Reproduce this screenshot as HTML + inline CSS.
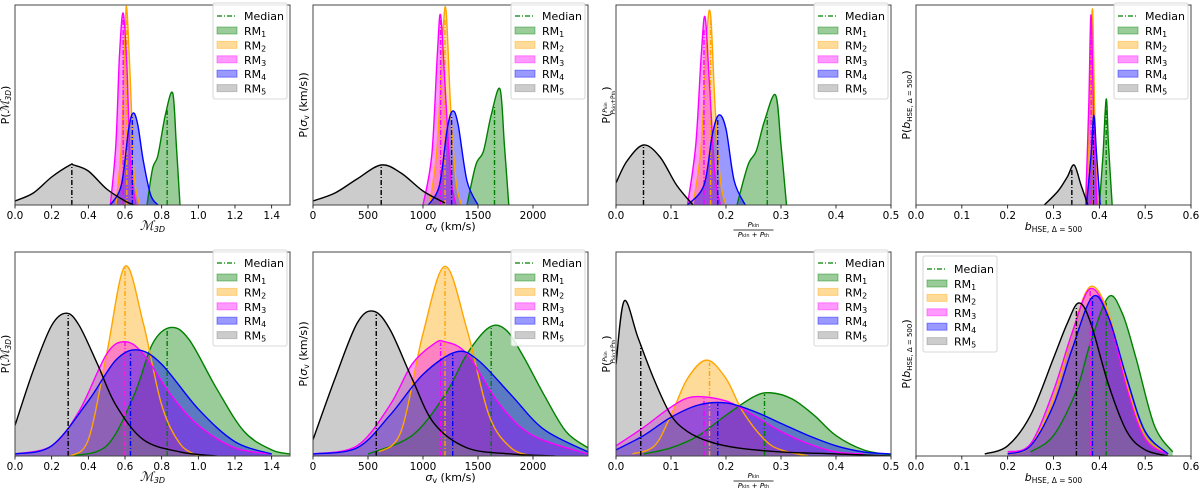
<!DOCTYPE html>
<html><head><meta charset="utf-8"><style>
body{margin:0;background:#fff;}
svg{display:block;font-family:"DejaVu Sans","Liberation Sans",sans-serif;}
</style></head><body>
<svg id="fig" width="1200" height="488" viewBox="0 0 1200 488" xmlns="http://www.w3.org/2000/svg"></svg>
<script>
// ---- data ----
const p1X=[[0.72,0.75,0.78,0.82,0.86,0.88,0.9],[0.55,0.58,0.6,0.61,0.63,0.65,0.68],[0.52,0.55,0.57,0.59,0.61,0.63,0.66],[0.52,0.58,0.62,0.645,0.67,0.7,0.74,0.78],[0,0.1,0.2,0.3,0.32,0.4,0.5,0.6,0.65]];
const p1Y=[[0,0.18,0.25,0.45,0.56,0.3,0],[0,0.3,0.85,0.98,0.6,0.15,0],[0,0.3,0.75,0.96,0.7,0.2,0],[0,0.1,0.38,0.46,0.4,0.22,0.05,0],[0.02,0.06,0.14,0.2,0.2,0.17,0.08,0.02,0]];
const p1Med=[0.83,0.61,0.59,0.64,0.31];
const p2X=[[1400,1480,1550,1620,1700,1740,1780],[1060,1130,1180,1210,1250,1300,1350],[1000,1080,1130,1160,1200,1250,1300],[1050,1150,1220,1270,1320,1400,1500],[0,200,400,620,800,1000,1200]];
const p2Y=[[0,0.2,0.27,0.45,0.58,0.3,0],[0,0.3,0.85,0.97,0.5,0.12,0],[0,0.25,0.75,0.95,0.6,0.15,0],[0,0.1,0.38,0.47,0.4,0.12,0],[0.02,0.06,0.13,0.2,0.16,0.07,0.01]];
const p2Med=[1650,1200,1160,1260,620];
const p3X=[[0.22,0.24,0.255,0.27,0.29,0.3,0.31],[0.14,0.155,0.165,0.172,0.18,0.19,0.2],[0.13,0.145,0.155,0.162,0.17,0.18,0.19],[0.13,0.16,0.175,0.187,0.2,0.215,0.235],[0,0.02,0.05,0.08,0.11,0.14]];
const p3Y=[[0,0.2,0.27,0.42,0.55,0.3,0],[0,0.3,0.85,0.95,0.5,0.12,0],[0,0.3,0.75,0.94,0.6,0.15,0],[0,0.1,0.35,0.45,0.38,0.12,0],[0.11,0.22,0.3,0.24,0.1,0]];
const p3Med=[0.275,0.172,0.16,0.185,0.05];
const p4X=[[0.4,0.408,0.415,0.42,0.428],[0.372,0.38,0.385,0.39,0.397],[0.37,0.377,0.382,0.388,0.395],[0.372,0.382,0.388,0.394,0.402],[0.28,0.31,0.33,0.345,0.36,0.375]];
const p4Y=[[0,0.25,0.53,0.3,0],[0,0.55,0.98,0.45,0],[0,0.5,0.95,0.4,0],[0,0.25,0.45,0.25,0],[0,0.07,0.14,0.2,0.1,0]];
const p4Med=[0.415,0.385,0.382,0.387,0.34];
const p5X=[[0.3,0.5,0.65,0.75,0.85,0.95,1.1,1.25,1.4,1.5],[0.3,0.4,0.5,0.6,0.7,0.8,0.9,1.0],[0,0.2,0.35,0.5,0.6,0.7,0.85,1.0,1.2,1.4],[0,0.2,0.4,0.55,0.67,0.8,1.0,1.2,1.4],[0,0.1,0.2,0.28,0.35,0.45,0.55,0.7,0.9,1.1]];
const p5Y=[[0,0.05,0.3,0.55,0.63,0.57,0.33,0.12,0.03,0.01],[0,0.08,0.5,0.93,0.65,0.25,0.06,0],[0.01,0.05,0.22,0.5,0.56,0.5,0.3,0.15,0.04,0.01],[0.01,0.05,0.27,0.47,0.52,0.45,0.23,0.07,0.01],[0.15,0.42,0.64,0.7,0.64,0.45,0.25,0.08,0.02,0]];
const p5Med=[0.83,0.6,0.6,0.63,0.29];
const p6X=[[500,900,1200,1400,1600,1750,1900,2100,2300,2500],[600,800,1000,1200,1400,1600,1800,2000],[0,400,700,900,1100,1200,1400,1700,2000,2500],[0,400,700,1000,1300,1500,1800,2100,2500],[0,200,400,550,700,900,1100,1400,1800,2200]];
const p6Y=[[0.01,0.1,0.3,0.5,0.63,0.62,0.5,0.3,0.12,0.04],[0.02,0.12,0.6,0.93,0.62,0.2,0.04,0],[0.01,0.05,0.25,0.45,0.55,0.56,0.5,0.25,0.1,0.01],[0.01,0.04,0.2,0.4,0.51,0.47,0.3,0.13,0.02],[0.08,0.38,0.65,0.71,0.62,0.38,0.16,0.04,0.01,0]];
const p6Med=[1620,1200,1160,1270,575];
const p7X=[[0.05,0.1,0.15,0.2,0.25,0.28,0.32,0.36,0.4,0.45,0.5],[0.03,0.07,0.1,0.13,0.165,0.2,0.23,0.27,0.3,0.35],[0,0.05,0.1,0.14,0.2,0.25,0.3,0.35,0.4,0.45],[0,0.05,0.1,0.15,0.2,0.25,0.3,0.35,0.4,0.45,0.5],[0,0.015,0.04,0.07,0.1,0.13,0.17,0.22,0.3,0.4,0.5]];
const p7Y=[[0.01,0.04,0.1,0.2,0.29,0.31,0.28,0.2,0.1,0.03,0.005],[0.01,0.05,0.2,0.38,0.47,0.38,0.22,0.08,0.03,0],[0.05,0.14,0.24,0.29,0.27,0.2,0.12,0.06,0.02,0.01],[0.03,0.1,0.19,0.25,0.26,0.22,0.16,0.1,0.05,0.02,0.01],[0.45,0.76,0.58,0.37,0.2,0.12,0.07,0.04,0.02,0.01,0]];
const p7Med=[0.27,0.17,0.16,0.185,0.045];
const p8X=[[0.25,0.3,0.35,0.38,0.42,0.45,0.48,0.52,0.56],[0.2,0.25,0.3,0.34,0.38,0.42,0.46,0.5,0.55],[0.2,0.25,0.3,0.34,0.38,0.42,0.46,0.5,0.55],[0.2,0.25,0.3,0.34,0.385,0.42,0.46,0.5,0.55],[0.15,0.2,0.25,0.3,0.33,0.355,0.38,0.42,0.46,0.5,0.55]];
const p8Y=[[0.02,0.1,0.32,0.55,0.78,0.7,0.48,0.15,0.02],[0.01,0.05,0.28,0.6,0.83,0.7,0.35,0.1,0.01],[0.02,0.06,0.32,0.6,0.82,0.68,0.33,0.08,0.01],[0.01,0.05,0.25,0.52,0.78,0.68,0.38,0.12,0.01],[0.01,0.05,0.2,0.48,0.65,0.75,0.66,0.35,0.12,0.03,0]];
const p8Med=[0.415,0.38,0.38,0.385,0.35];
const seriesNames=['RM1','RM2','RM3','RM4','RM5'];
const ticks14=[0,0.2,0.4,0.6,0.8,1.0,1.2,1.4];
const ticksSig=[0,500,1000,1500,2000];
const ticks05=[0,0.1,0.2,0.3,0.4,0.5];
const ticks06=[0,0.1,0.2,0.3,0.4,0.5,0.6];

// ---- styling / layout ----
const lineCol=['#008000','#FFA500','#FF00FF','#0000FF','#000000'];
const fillCol=['#008000','#FFA500','#FF00FF','#0000FF','#808080'];
const NS='http://www.w3.org/2000/svg';
const svg=document.getElementById('fig');
function mk(tag,attrs,parent){const e=document.createElementNS(NS,tag);for(const k in attrs)e.setAttribute(k,attrs[k]);(parent||svg).appendChild(e);return e;}
function fmt(v,dec){return dec<0?String(v):v.toFixed(dec);}

const panels=[
 {X:p1X,Y:p1Y,M:p1Med,xmax:1.5,ticks:ticks14,dec:1,left:15,top:5,bot:205,lab:'m3d',legL:false,name:'mach-top'},
 {X:p2X,Y:p2Y,M:p2Med,xmax:2500,ticks:ticksSig,dec:-1,left:313,top:5,bot:205,lab:'sig',legL:false,name:'sigma-top'},
 {X:p3X,Y:p3Y,M:p3Med,xmax:0.5,ticks:ticks05,dec:1,left:616,top:5,bot:205,lab:'p',legL:false,name:'pressure-top'},
 {X:p4X,Y:p4Y,M:p4Med,xmax:0.6,ticks:ticks06,dec:1,left:916,top:5,bot:205,lab:'b',legL:false,name:'bias-top'},
 {X:p5X,Y:p5Y,M:p5Med,xmax:1.5,ticks:ticks14,dec:1,left:15,top:252,bot:456,lab:'m3d',legL:false,name:'mach-bottom'},
 {X:p6X,Y:p6Y,M:p6Med,xmax:2500,ticks:ticksSig,dec:-1,left:313,top:252,bot:456,lab:'sig',legL:false,name:'sigma-bottom'},
 {X:p7X,Y:p7Y,M:p7Med,xmax:0.5,ticks:ticks05,dec:1,left:616,top:252,bot:456,lab:'p',legL:false,name:'pressure-bottom'},
 {X:p8X,Y:p8Y,M:p8Med,xmax:0.6,ticks:ticks06,dec:1,left:916,top:252,bot:456,lab:'b',legL:true,name:'bias-bottom'}
];
const W=275;

function smoothPath(pts){
 let d='M'+pts[0][0].toFixed(2)+','+pts[0][1].toFixed(2);
 for(let i=0;i<pts.length-1;i++){
  const p0=pts[Math.max(0,i-1)],p1=pts[i],p2=pts[i+1],p3=pts[Math.min(pts.length-1,i+2)];
  const c1=[p1[0]+(p2[0]-p0[0])/6,p1[1]+(p2[1]-p0[1])/6];
  const c2=[p2[0]-(p3[0]-p1[0])/6,p2[1]-(p3[1]-p1[1])/6];
  d+=' C'+c1[0].toFixed(2)+','+c1[1].toFixed(2)+' '+c2[0].toFixed(2)+','+c2[1].toFixed(2)+' '+p2[0].toFixed(2)+','+p2[1].toFixed(2);
 }
 return d;
}
function interp(xs,ys,v){
 if(v<=xs[0])return ys[0];
 for(let i=0;i<xs.length-1;i++){if(v<=xs[i+1]){const t=(v-xs[i])/(xs[i+1]-xs[i]);return ys[i]+t*(ys[i+1]-ys[i]);}}
 return ys[ys.length-1];
}

panels.forEach((P,pi)=>{
 const g=mk('g',{});
 
 
 const H=P.bot-P.top;
 const sx=v=>P.left+v/P.xmax*W;
 const sy=v=>P.bot-v*H;
 const clip=mk('clipPath',{id:'c'+pi},g);
 mk('rect',{x:P.left,y:P.top,width:W,height:H},clip);
 const plot=mk('g',{'clip-path':'url(#c'+pi+')'},g);
 // fills
 P.X.forEach((xs,si)=>{
  const pts=xs.map((x,k)=>[sx(x),sy(P.Y[si][k])]);
  const area=mk('path',{d:smoothPath(pts)+' L'+pts[pts.length-1][0]+','+P.bot+' L'+pts[0][0]+','+P.bot+' Z',fill:fillCol[si],'fill-opacity':0.4,stroke:'none'},plot);
  
  
 });
 // lines + medians
 P.X.forEach((xs,si)=>{
  const pts=xs.map((x,k)=>[sx(x),sy(P.Y[si][k])]);
  const ln=mk('path',{d:smoothPath(pts),fill:'none',stroke:lineCol[si],'stroke-width':1.4},plot);
  
  
  const m=P.M[si];
  const md=mk('line',{x1:sx(m),x2:sx(m),y1:P.bot,y2:sy(interp(xs,P.Y[si],m)),stroke:lineCol[si],'stroke-width':1.4,'stroke-dasharray':'5,2,1,2'},plot);
  
  
 });
 // frame
 const fr=mk('rect',{x:P.left,y:P.top,width:W,height:H,fill:'none',stroke:'#444','stroke-width':1},g);
 
 
 // ticks
 P.ticks.forEach(t=>{
  const x=sx(t);
  mk('line',{x1:x,x2:x,y1:P.bot,y2:P.bot+3.5,stroke:'#000','stroke-width':0.8},g);
  const tl=mk('text',{x:x,y:P.bot+14,'font-size':10.5,'text-anchor':'middle',fill:'#000'},g);
  tl.textContent=fmt(t,P.dec);
  
  
 });
 // x label
 const cx=P.left+W/2, ly=P.bot+25;
 const xl=mk('text',{x:cx,y:ly,'font-size':11,'text-anchor':'middle',fill:'#000'},g);
 
 
 if(P.lab==='m3d'){xl.innerHTML='<tspan font-style="italic" font-family="Liberation Serif, serif" font-size="13">ℳ</tspan><tspan font-size="8" dy="2" font-style="italic">3D</tspan>';}
 else if(P.lab==='sig'){xl.innerHTML='<tspan font-style="italic">σ</tspan><tspan font-size="8" dy="2">v</tspan><tspan dy="-2"> (km/s)</tspan>';}
 else if(P.lab==='b'){xl.innerHTML='<tspan font-style="italic">b</tspan><tspan font-size="7.5" dy="2">HSE, Δ = 500</tspan>';}
 else {
  xl.setAttribute('y',ly-3);xl.setAttribute('font-size',7);xl.innerHTML='<tspan font-style="italic">P</tspan><tspan font-size="5">kin</tspan>';
  mk('line',{x1:cx-20,x2:cx+20,y1:ly,y2:ly,stroke:'#000','stroke-width':0.7},g);
  const d2=mk('text',{x:cx,y:ly+7,'font-size':7,'text-anchor':'middle'},g);
  d2.innerHTML='<tspan font-style="italic">P</tspan><tspan font-size="5">kin</tspan> + <tspan font-style="italic">P</tspan><tspan font-size="5">th</tspan>';
 }
 // y label
 const yx=P.left-6, yy=(P.top+P.bot)/2;
 const yl=mk('text',{x:yx,y:yy,'font-size':11,'text-anchor':'middle',transform:'rotate(-90 '+yx+' '+yy+')',fill:'#000'},g);
 
 
 if(P.lab==='m3d')yl.innerHTML='P(<tspan font-style="italic" font-family="Liberation Serif, serif" font-size="12">ℳ</tspan><tspan font-size="7.5" dy="2" font-style="italic">3D</tspan><tspan dy="-2">)</tspan>';
 else if(P.lab==='sig')yl.innerHTML='P(<tspan font-style="italic">σ</tspan><tspan font-size="7.5" dy="2">v</tspan><tspan dy="-2"> (km/s))</tspan>';
 else if(P.lab==='b')yl.innerHTML='P(<tspan font-style="italic">b</tspan><tspan font-size="7" dy="2">HSE, Δ = 500</tspan><tspan dy="-2">)</tspan>';
 else yl.innerHTML='P(<tspan font-size="6" dy="-3" font-style="italic">P</tspan><tspan font-size="4.5">kin</tspan><tspan font-size="6" dy="8" dx="-12" font-style="italic">P</tspan><tspan font-size="4.5">kin</tspan><tspan font-size="6">+P</tspan><tspan font-size="4.5">th</tspan><tspan dy="-5">)</tspan>';
 // legend
 const bx=P.legL?P.left+7:P.left+W-77, by=P.top+(P.legL?4:-2);
 const lg=mk('g',{},g);
 
 
 mk('rect',{x:bx,y:by,width:74,height:96,rx:2,fill:'#fff','fill-opacity':0.85,stroke:'#ccc','stroke-width':0.8},lg);
 const e0=mk('g',{},lg);
 
 
 mk('line',{x1:bx+4,x2:bx+24,y1:by+13,y2:by+13,stroke:'#008000','stroke-width':1.3,'stroke-dasharray':'5,2,1,2'},e0);
 mk('text',{x:bx+31,y:by+17,'font-size':11}, e0).textContent='Median';
 seriesNames.forEach((n,si)=>{
  const yy2=by+28+si*14.4;
  const e=mk('g',{},lg);
  
  
  mk('rect',{x:bx+4,y:yy2-4,width:20,height:7,fill:fillCol[si],'fill-opacity':0.4,stroke:fillCol[si],'stroke-opacity':0.4},e);
  const t=mk('text',{x:bx+31,y:yy2+4,'font-size':11},e);
  t.innerHTML='RM<tspan font-size="8" dy="2">'+(si+1)+'</tspan>';
 });
});
</script>
</body></html>
